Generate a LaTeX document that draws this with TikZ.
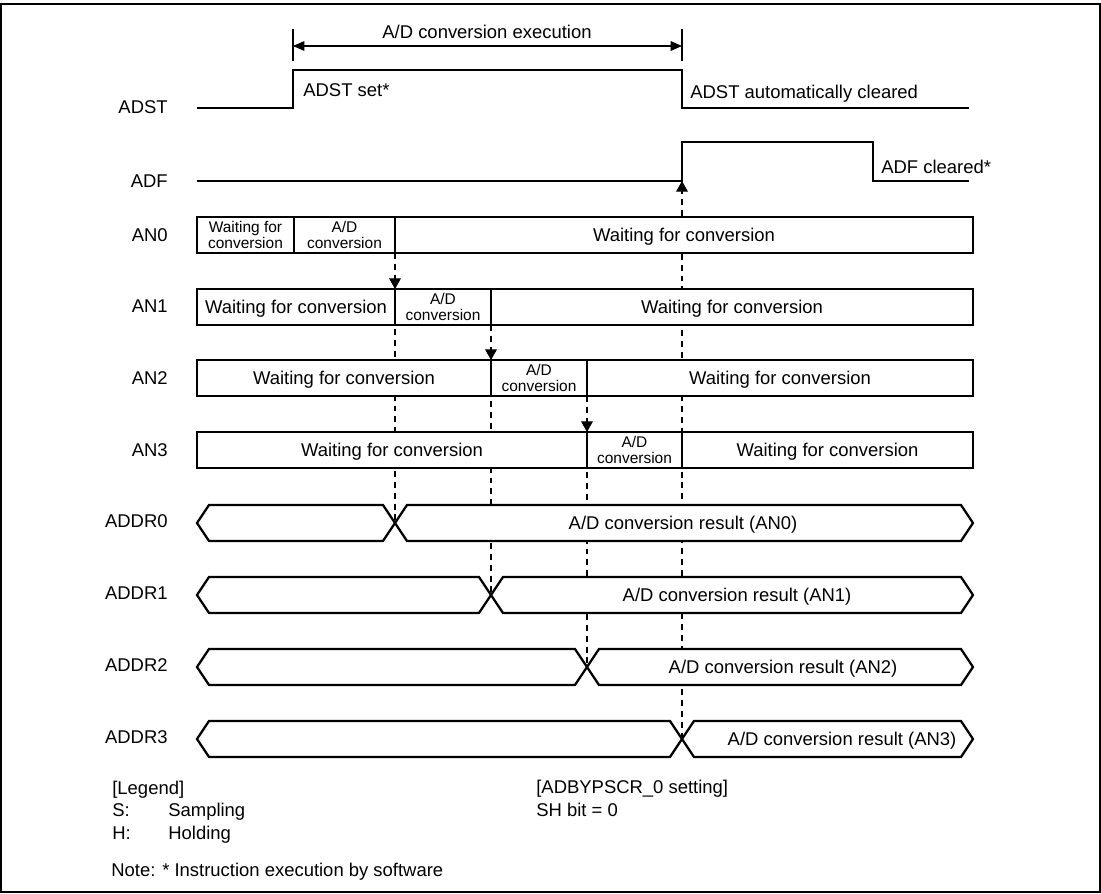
\documentclass[tikz,border=0pt]{standalone}
\usepackage{fontspec}
\setmainfont{Liberation Sans}
\usetikzlibrary{arrows.meta,positioning,calc}

\begin{document}
\begin{tikzpicture}[x=0.02cm,y=-0.02cm,
  wave/.style={line width=1.3pt,line join=miter},
  bus/.style={wave,fill=white},
  cell/.style={draw,line width=1.2pt,fill=white},
  guide/.style={line width=0.6pt,dash pattern=on 3.4pt off 2.8pt},
  tip/.style={-{Triangle[length=6pt,width=6.6pt]}},
  big/.style={font=\fontsize{10.5}{12}\selectfont,inner sep=0pt,text depth=0pt},
  small/.style={font=\fontsize{8.8}{9}\selectfont,inner sep=0pt,align=center},
  sname/.style={big,anchor=east}]
\useasboundingbox (0,0) rectangle (1101,893);
\draw[line width=1.2pt] (1,4) rectangle (1100,892);

% signal names
\foreach \n/\y in {ADST/107,ADF/181,AN0/235,AN1/306,AN2/378,AN3/450,
                   ADDR0/521,ADDR1/593,ADDR2/665,ADDR3/737}
  \node[sname] (n\n) at (168,\y) {\n};

% ADST and ADF
\coordinate (set) at (293,108);
\coordinate (clr) at (682,108);
\coordinate (adf) at (682,181);
\draw[wave] (197,108) -- (set) -- (293,70) -- (682,70) -- (clr) -- (969,108);
\draw[wave] (197,181) -- (adf) -- (682,142) -- (873,142) -- (873,181) -- (969,181);
\node[big,anchor=west] (setlbl) at (303,90) {ADST set*};
\node[big,anchor=west] (clrlbl) at (690,92) {ADST automatically cleared};
\node[big,anchor=west] (adflbl) at (881,167) {ADF cleared*};

% execution span
\coordinate (e1) at (293,46);
\coordinate (e2) at (682,46);
\draw[line width=0.6pt] (293,29) -- (293,61) (682,29) -- (682,61);
\draw[line width=0.6pt,{Triangle[length=6.5pt,width=5.5pt]}-{Triangle[length=6.5pt,width=5.5pt]}] (e1) -- (e2);
\node[big] (exec) at (487,32) {A/D conversion execution};

% crossing points of ADDRn
\foreach \k/\x in {0/395,1/491,2/587,3/682}
  \coordinate (x\k) at (\x,{523+72*\k});

% dashed guides
\foreach \k/\x/\s/\e in {0/395/253/289,1/491/325/360,2/587/396/432}{
  \coordinate (g\k) at (\x,\s);
  \coordinate (h\k) at (\x,\e);
  \draw[guide] (g\k) -- (x\k);
  \draw[guide,tip] (g\k) -- (h\k);}
\draw[guide,tip] (x3) -- (adf);

% AN0 ... AN3
\foreach \r/\t/\a/\b in {0/217/294/395,1/289/395/491,2/360/491/587,3/432/587/682}{
  \draw[cell] (197,\t) rectangle (\a,{\t+36});
  \ifnum\r=0
    \node[small] (w\r) at ({(197+\a)/2},{\t+18}) {Waiting for\\conversion};
  \else
    \node[big] (w\r) at ({(197+\a)/2},{\t+18}) {Waiting for conversion};
  \fi
  \draw[cell] (\a,\t) rectangle (\b,{\t+36});
  \node[small] (c\r) at ({(\a+\b)/2},{\t+18}) {A/D\\conversion};
  \draw[cell] (\b,\t) rectangle (973,{\t+36});
  \node[big] (e\r) at ({(\b+973)/2},{\t+18}) {Waiting for conversion};}

% ADDR0 ... ADDR3
\foreach \k/\x/\m in {0/395/683,1/491/737,2/587/783,3/682/842}{
  \pgfmathsetmacro\y{523+72*\k}
  \draw[bus] (197,\y) -- (209,{\y-18}) -- ({\x-12},{\y-18}) -- ({\x+12},{\y+18})
    -- (961,{\y+18}) -- (973,\y) -- (961,{\y-18}) -- ({\x+12},{\y-18})
    -- ({\x-12},{\y+18}) -- (209,{\y+18}) -- cycle;
  \node[big] (res\k) at (\m,\y) {A/D conversion result (AN\k)};}

% legend and notes
\node[big,anchor=base west] (lgd) at (112,794) {[Legend]};
\node[big,anchor=base west] (ls) at (112,816) {S:};
\node[big,anchor=base west] (lst) at (168,816) {Sampling};
\node[big,anchor=base west] (lh) at (112,839) {H:};
\node[big,anchor=base west] (lht) at (168,839) {Holding};
\node[big,anchor=base west] (note) at (111,876) {Note: * Instruction execution by software};
\node[big,anchor=base west] (reg) at (536,793) {[ADBYPSCR\_0 setting]};
\node[big,anchor=base west] (shb) at (536,816) {SH bit = 0};
\end{tikzpicture}
\end{document}
